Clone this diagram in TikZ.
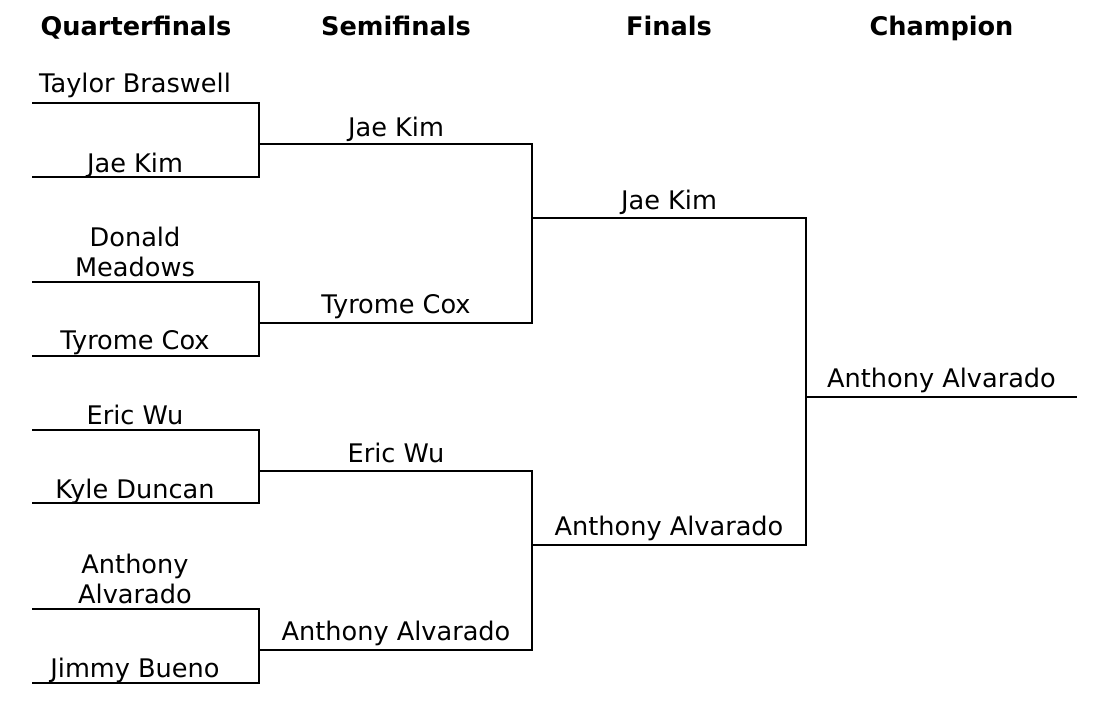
\documentclass[tikz,border=0pt]{standalone}
\usepackage{fontspec}
\setmainfont{DejaVu Sans}
\tikzset{
  player/.style={anchor=base, inner sep=0pt, align=center, font=\fontsize{12.8}{15}\selectfont},
  roundhead/.style={player, font=\fontsize{12.8}{15}\selectfont\bfseries},
  bline/.style={line width=1pt},
}
\begin{document}
\begin{tikzpicture}[x=0.5pt, y=-0.5pt]
	\useasboundingbox (0,0) rectangle (1100,710);
	% round titles
	\node[roundhead] (hq) at (136,36) {Quarterfinals};
	\node[roundhead] (hs) at (396,36) {Semifinals};
	\node[roundhead] (hf) at (669,36) {Finals};
	\node[roundhead] (hc) at (941.5,36) {Champion};
	% quarterfinals
	\foreach \i/\y/\b/\who in {1/103/93/Taylor Braswell, 2/177/173/Jae Kim, 3/282/277/{Donald\\Meadows}, 4/356/350/Tyrome Cox,
			5/430/425/Eric Wu, 6/503/499/Kyle Duncan, 7/609/604/{Anthony\\Alvarado}, 8/683/678/Jimmy Bueno} {
		\coordinate (qw\i) at (32,\y);
		\coordinate (qe\i) at (259,\y);
		\node[player] (q\i) at (135,\b) {\who};
	}
	% semifinals
	\foreach \i/\y/\b/\who in {1/144/137/Jae Kim, 2/323/314/Tyrome Cox, 3/471/463/Eric Wu, 4/650/641/Anthony Alvarado} {
		\coordinate (sw\i) at (259,\y);
		\coordinate (se\i) at (532,\y);
		\node[player] (s\i) at (396,\b) {\who};
	}
	% finals and champion
	\foreach \i/\y/\b/\who in {1/218/210/Jae Kim, 2/545/536/Anthony Alvarado} {
		\coordinate (fw\i) at (532,\y);
		\coordinate (fe\i) at (806,\y);
		\node[player] (f\i) at (669,\b) {\who};
	}
	\coordinate (cw) at (806,397);
	\coordinate (ce) at (1077,397);
	\node[player] (c) at (941.5,388) {Anthony Alvarado};
	% bracket lines
	\foreach \a/\b in {1/2,3/4,5/6,7/8} \draw[bline] (qw\a) -- (qe\a) -- (qe\b) -- (qw\b);
	\foreach \a/\b in {1/2,3/4} \draw[bline] (sw\a) -- (se\a) -- (se\b) -- (sw\b);
	\draw[bline] (fw1) -- (fe1) -- (fe2) -- (fw2);
	\draw[bline] (cw) -- (ce);
\end{tikzpicture}
\end{document}
